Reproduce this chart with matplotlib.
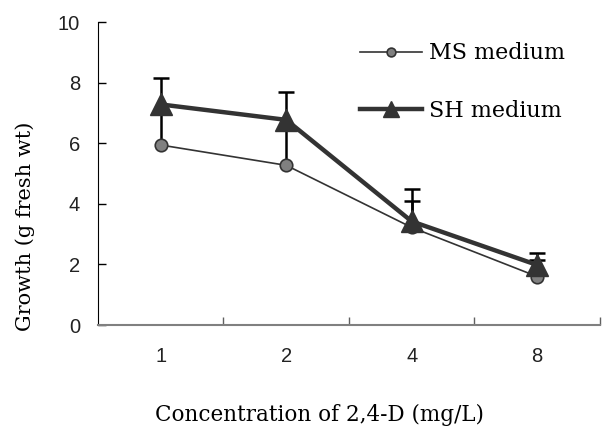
import matplotlib
matplotlib.use('Agg')
import matplotlib.pyplot as plt
import numpy as np

plt.rcParams['font.family'] = ['Liberation Sans', 'DejaVu Sans']

# data
conc = ['1', '2', '4', '8']
ms_growth = [5.94, 5.27, 3.22, 1.60]
ms_err = [1.15, 1.30, 0.87, 0.54]
sh_growth = [7.28, 6.77, 3.42, 1.98]
sh_err = [0.87, 0.93, 1.06, 0.40]

x = np.arange(len(conc))

fig = plt.figure(figsize=(6.03, 4.29), dpi=100)
ax = fig.add_axes([0.1625, 0.2424, 0.8325, 0.7063])

serif = ['DejaVu Serif']

# error bars (upward only) - hide the lower caps
for vals, errs in [(ms_growth, ms_err), (sh_growth, sh_err)]:
    eb = ax.errorbar(x, vals, yerr=[np.zeros(4), errs], fmt='none',
                     ecolor='black', elinewidth=1.8, capsize=6, capthick=1.8, zorder=2)
    eb[1][0].set_visible(False)

ax.plot(x, ms_growth, color='#333333', lw=1.2, marker='o', ms=9,
        mfc='#808080', mec='#333333', mew=1.2, label='MS medium', zorder=3)
ax.plot(x, sh_growth, color='#333333', lw=3.2, marker='^', ms=16,
        mfc='#333333', mec='#333333', label='SH medium', zorder=4)

ax.set_xlim(-0.5, 3.5)
ax.set_ylim(0, 10)
ax.set_yticks([0, 2, 4, 6, 8, 10])
ax.set_xticks(x)
ax.set_xticklabels(conc)
ax.set_xticks([0.5, 1.5, 2.5, 3.5], minor=True)
ax.tick_params(axis='x', which='major', length=0, pad=16, labelsize=14.5, labelcolor='#222222')
ax.tick_params(axis='x', which='minor', direction='in', length=6, width=1, color='#606060')
ax.tick_params(axis='y', direction='in', length=6, width=1, pad=13, labelsize=14.5, labelcolor='#222222')

for s in ['top', 'right']:
    ax.spines[s].set_visible(False)
ax.spines['left'].set_color('black')
ax.spines['bottom'].set_color('#808080')
ax.spines['bottom'].set_linewidth(1.5)

ax.set_xlabel('Concentration of 2,4-D (mg/L)', fontsize=15.5, family=serif)
ax.xaxis.set_label_coords(0.442, -0.262)
ax.set_ylabel('Growth (g fresh wt)', fontsize=15, family=serif)
ax.yaxis.set_label_coords(-0.125, 0.327)

leg = ax.legend(loc='upper left', bbox_to_anchor=(0.578, 0.927), bbox_transform=fig.transFigure,
                frameon=False, borderpad=0, markerscale=0.7,
                handlelength=2.8, handletextpad=0.3, labelspacing=1.6,
                prop={'family': serif, 'size': 16})

fig.savefig('out.png', dpi=100)
